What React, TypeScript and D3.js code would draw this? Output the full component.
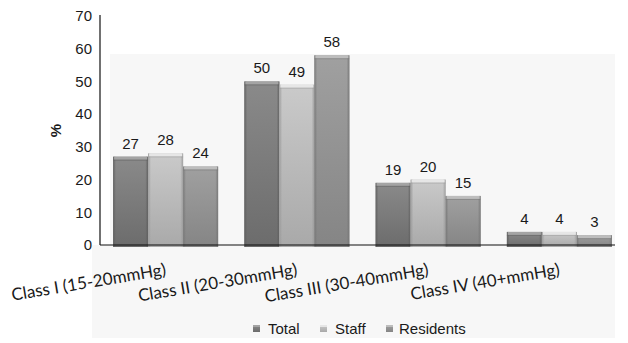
import React from "react";
import * as d3 from "d3";

// Pulmonary pressure classes and percentage per group
const categories = [
  "Class I (15-20mmHg)",
  "Class II (20-30mmHg)",
  "Class III (30-40mmHg)",
  "Class IV (40+mmHg)",
];
const seriesNames = ["Total", "Staff", "Residents"];
const totalValues = [27, 50, 19, 4];
const staffValues = [28, 49, 20, 4];
const residentValues = [24, 58, 15, 3];
const yTicks = [0, 10, 20, 30, 40, 50, 60, 70];

const W = 628;
const H = 343;

const seriesValues = [totalValues, staffValues, residentValues];
const seriesColors = [
  { top: "#8a8a8a", bottom: "#6c6c6c", edge: "#5e5e5e", hi: "#a4a4a4" },
  { top: "#cacaca", bottom: "#a9a9a9", edge: "#9a9a9a", hi: "#e6e6e6" },
  { top: "#a0a0a0", bottom: "#858585", edge: "#767676", hi: "#bdbdbd" },
];

export default function App() {
  const x0 = d3
    .scaleBand<string>()
    .domain(categories)
    .range([100, 625])
    .paddingInner(0.2)
    .paddingOuter(0.1);
  const x1 = d3
    .scaleBand<string>()
    .domain(seriesNames)
    .range([0, x0.bandwidth()]);
  const y = d3.scaleLinear().domain([0, 70]).range([245, 16]);
  const font = "Liberation Sans, Arial, sans-serif";

  return (
    <svg
      width={W}
      height={H}
      style={{ position: "absolute", left: 0, top: 0, background: "#fff" }}
    >
      <defs>
        {seriesColors.map((c, i) => (
          <linearGradient key={i} id={`g${i}`} x1="0" y1="0" x2="0" y2="1">
            <stop offset="0" stopColor={c.top} />
            <stop offset="1" stopColor={c.bottom} />
          </linearGradient>
        ))}
        {seriesColors.map((c, i) => (
          <linearGradient key={i} id={`h${i}`} x1="0" y1="0" x2="1" y2="0">
            <stop offset="0" stopColor={c.edge} stopOpacity={0.9} />
            <stop offset="0.08" stopColor={c.edge} stopOpacity={0} />
            <stop offset="0.92" stopColor={c.edge} stopOpacity={0} />
            <stop offset="1" stopColor={c.edge} stopOpacity={0.9} />
          </linearGradient>
        ))}
      </defs>

      {/* plot area backdrop */}
      <path d="M110,54 H615 V338 H92 V245 H110 Z" fill="#f7f7f7" />

      {/* y-axis labels */}
      {yTicks.map((t) => (
        <text
          key={t}
          x={92}
          y={y(t)}
          dy="0.35em"
          textAnchor="end"
          fontFamily={font}
          fontSize={15}
          fill="#1a1a1a"
        >
          {t}
        </text>
      ))}
      <text
        transform={`translate(56,${y(35)}) rotate(-90)`}
        textAnchor="middle"
        dy="0.35em"
        fontFamily={font}
        fontSize={15}
        fontWeight="bold"
        fill="#1a1a1a"
      >
        %
      </text>

      {/* bars */}
      {categories.map((cat, ci) => (
        <g key={cat} transform={`translate(${x0(cat)},0)`}>
          {seriesNames.map((s, si) => {
            const v = seriesValues[si][ci];
            const bx = x1(s)!;
            const bw = x1.bandwidth();
            const top = y(v);
            const bottom = y(0) + 2;
            const c = seriesColors[si];
            return (
              <g key={s}>
                <rect x={bx} y={top} width={bw} height={bottom - top} fill={`url(#g${si})`} />
                <rect x={bx} y={top} width={bw} height={bottom - top} fill={`url(#h${si})`} />
                <rect x={bx + 1} y={top} width={bw - 2} height={3} fill={c.hi} />
                <rect x={bx} y={top + 3} width={bw} height={1} fill={c.edge} opacity={0.5} />
                <text
                  x={bx + bw / 2}
                  y={top - 8}
                  textAnchor="middle"
                  fontFamily={font}
                  fontSize={15}
                  fill="#1a1a1a"
                >
                  {v}
                </text>
              </g>
            );
          })}
        </g>
      ))}

      {/* axes */}
      <line x1={100} x2={100} y1={15} y2={245} stroke="#111" strokeWidth={1.2} />
      <line x1={100} x2={615} y1={245} y2={245} stroke="#111" strokeWidth={1.2} />

      {/* category labels */}
      {categories.map((cat) => (
        <text
          key={cat}
          transform={`translate(${x0(cat)! + x0.bandwidth() / 2 + 1},275) rotate(-9.5)`}
          textAnchor="end"
          fontFamily="Lato, sans-serif"
          fontSize={17}
          fill="#1a1a1a"
        >
          {cat}
        </text>
      ))}

      {/* legend */}
      {[
        { name: "Total", sx: 253, tx: 268 },
        { name: "Staff", sx: 320, tx: 335 },
        { name: "Residents", sx: 386, tx: 399 },
      ].map((l, i) => (
        <g key={l.name}>
          <rect x={l.sx} y={325} width={7} height={7} fill={`url(#g${i})`} />
          <rect x={l.sx} y={325} width={7} height={2} fill={seriesColors[i].hi} />
          <text
            x={l.tx}
            y={329}
            dy="0.35em"
            fontFamily={font}
            fontSize={15}
            fill="#1a1a1a"
          >
            {l.name}
          </text>
        </g>
      ))}
    </svg>
  );
}
